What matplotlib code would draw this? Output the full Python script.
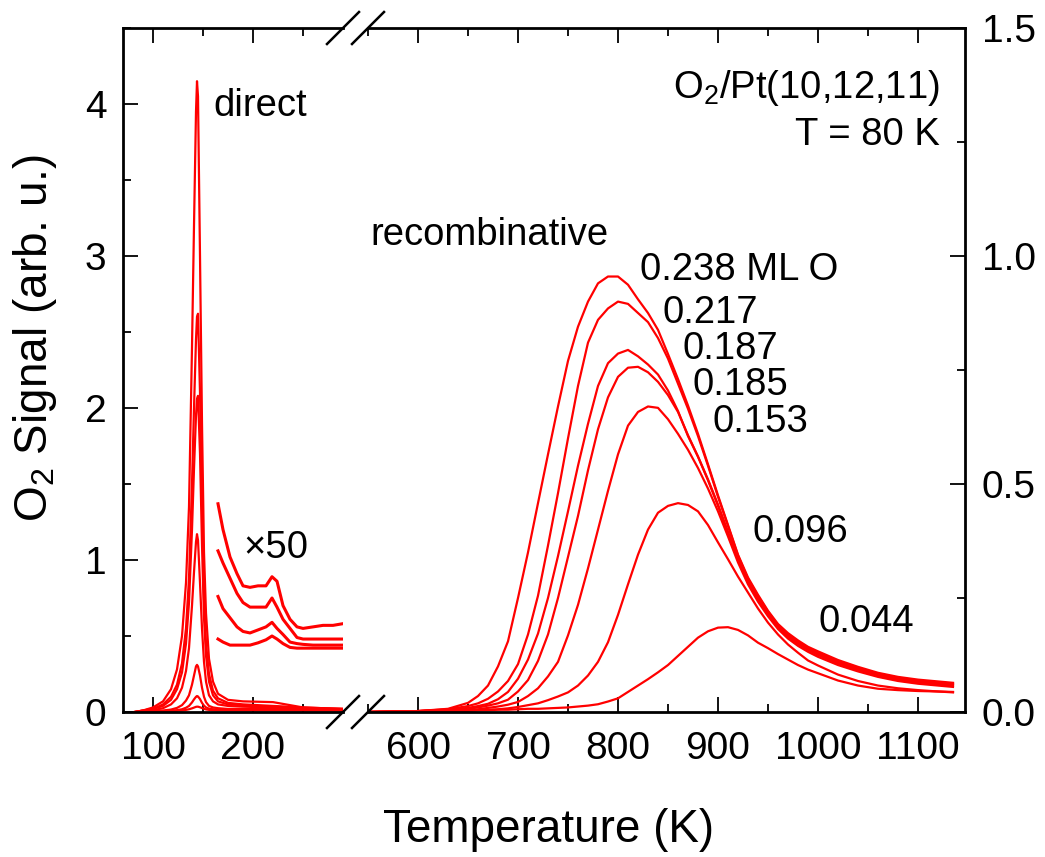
import matplotlib
matplotlib.use('Agg')
import matplotlib.pyplot as plt
from matplotlib.lines import Line2D
from matplotlib.ticker import MultipleLocator

plt.rcParams['font.family'] = ['Liberation Sans', 'DejaVu Sans']
plt.rcParams['mathtext.default'] = 'regular'

# ---- data: direct O2 desorption (left panel, left axis units)
T_dir = [82, 90, 100, 110, 118, 124, 129, 133, 136, 139, 141, 143, 144, 145, 147,
         149, 151, 153, 156, 160, 165, 175, 190, 220, 250, 290]
dir_238 = [0.0, 0.01, 0.03, 0.07, 0.15, 0.28, 0.5, 0.85, 1.35, 2.4, 3.2, 3.95, 4.15, 4.05, 3.0,
           1.9, 1.05, 0.65, 0.35, 0.2, 0.12, 0.08, 0.07, 0.065, 0.03, 0.02]
dir_217 = [0.0, 0.01, 0.02, 0.05, 0.1, 0.18, 0.32, 0.55, 0.88, 1.5, 2.0, 2.45, 2.6, 2.62, 2.1,
           1.35, 0.75, 0.45, 0.25, 0.14, 0.09, 0.06, 0.05, 0.04, 0.03, 0.02]
dir_187 = [0.0, 0.01, 0.02, 0.04, 0.08, 0.15, 0.26, 0.45, 0.72, 1.2, 1.6, 1.95, 2.06, 2.08, 1.7,
           1.1, 0.62, 0.37, 0.2, 0.11, 0.07, 0.05, 0.045, 0.035, 0.025, 0.02]
dir_185 = [0.0, 0.005, 0.012, 0.025, 0.05, 0.09, 0.16, 0.27, 0.42, 0.7, 0.92, 1.12, 1.17, 1.13, 0.85,
           0.55, 0.33, 0.2, 0.11, 0.07, 0.05, 0.04, 0.035, 0.03, 0.02, 0.02]
dir_153 = [0.0, 0.003, 0.006, 0.01, 0.016, 0.027, 0.045, 0.075, 0.11, 0.18, 0.24, 0.3, 0.31, 0.3, 0.24,
           0.16, 0.1, 0.065, 0.04, 0.03, 0.025, 0.02, 0.02, 0.02, 0.015, 0.015]
dir_096 = [0.0, 0.002, 0.003, 0.005, 0.008, 0.012, 0.018, 0.028, 0.04, 0.063, 0.083, 0.1, 0.105, 0.102, 0.085,
           0.06, 0.042, 0.03, 0.022, 0.018, 0.016, 0.015, 0.015, 0.015, 0.012, 0.012]
dir_044 = [0.0, 0.002, 0.003, 0.004, 0.006, 0.008, 0.01, 0.014, 0.018, 0.024, 0.029, 0.034, 0.035, 0.035, 0.031,
           0.026, 0.021, 0.017, 0.014, 0.012, 0.011, 0.01, 0.01, 0.01, 0.01, 0.01]

# x50 magnified traces
T_x50 = [165, 170, 177, 184, 190, 197, 205, 213, 219, 224, 230, 237, 244, 250, 260, 270, 280, 289]
x50_a = [1.37, 1.2, 1.02, 0.91, 0.83, 0.82, 0.83, 0.83, 0.89, 0.86, 0.7, 0.61, 0.56, 0.55, 0.56, 0.57, 0.57, 0.58]
x50_b = [1.06, 0.98, 0.88, 0.78, 0.72, 0.69, 0.69, 0.69, 0.75, 0.69, 0.61, 0.55, 0.49, 0.48, 0.48, 0.48, 0.48, 0.48]
x50_c = [0.76, 0.68, 0.62, 0.56, 0.53, 0.52, 0.54, 0.56, 0.59, 0.55, 0.51, 0.46, 0.45, 0.445, 0.44, 0.44, 0.44, 0.44]
x50_d = [0.48, 0.46, 0.44, 0.44, 0.44, 0.44, 0.455, 0.475, 0.5, 0.48, 0.45, 0.425, 0.42, 0.42, 0.42, 0.42, 0.42, 0.42]

# ---- data: recombinative desorption (right panel, right axis units)
T_rec = [550, 600, 630, 650, 660, 670, 680, 690, 700, 710, 720, 730, 740, 750, 760, 770, 780, 790,
         800, 810, 820, 830, 840, 850, 860, 870, 880, 890, 900, 910, 920, 930, 940, 950, 960, 970,
         980, 990, 1000, 1020, 1040, 1060, 1080, 1100, 1120, 1135]
rec_238 = [0.0, 0.002, 0.007, 0.02, 0.035, 0.058, 0.1, 0.155, 0.25, 0.35, 0.458, 0.565, 0.67, 0.77, 0.845, 0.9, 0.94, 0.955,
           0.955, 0.937, 0.905, 0.875, 0.838, 0.785, 0.73, 0.672, 0.61, 0.543, 0.475, 0.41, 0.345, 0.295, 0.257, 0.222, 0.193, 0.173,
           0.157, 0.143, 0.133, 0.114, 0.099, 0.086, 0.077, 0.071, 0.067, 0.064]
rec_217 = [0.0, 0.002, 0.006, 0.013, 0.019, 0.029, 0.045, 0.068, 0.105, 0.17, 0.255, 0.365, 0.48, 0.6, 0.715, 0.81, 0.86, 0.885,
           0.9, 0.895, 0.875, 0.855, 0.82, 0.775, 0.72, 0.665, 0.605, 0.54, 0.472, 0.408, 0.343, 0.292, 0.254, 0.22, 0.19, 0.17,
           0.154, 0.14, 0.13, 0.111, 0.096, 0.084, 0.075, 0.069, 0.065, 0.062]
rec_187 = [0.0, 0.002, 0.005, 0.009, 0.013, 0.018, 0.028, 0.044, 0.073, 0.115, 0.172, 0.25, 0.342, 0.44, 0.54, 0.632, 0.715, 0.765,
           0.786, 0.794, 0.78, 0.762, 0.74, 0.705, 0.66, 0.605, 0.56, 0.51, 0.455, 0.395, 0.335, 0.288, 0.25, 0.217, 0.188, 0.167,
           0.151, 0.138, 0.127, 0.108, 0.094, 0.082, 0.073, 0.067, 0.063, 0.060]
rec_185 = [0.0, 0.002, 0.004, 0.007, 0.01, 0.014, 0.019, 0.027, 0.045, 0.07, 0.112, 0.17, 0.25, 0.34, 0.43, 0.53, 0.62, 0.69,
           0.735, 0.755, 0.757, 0.745, 0.724, 0.695, 0.658, 0.607, 0.56, 0.508, 0.452, 0.392, 0.333, 0.285, 0.247, 0.214, 0.186, 0.165,
           0.149, 0.136, 0.125, 0.106, 0.092, 0.080, 0.071, 0.065, 0.061, 0.058]
rec_153 = [0.0, 0.001, 0.003, 0.004, 0.006, 0.009, 0.012, 0.016, 0.022, 0.035, 0.052, 0.078, 0.11, 0.168, 0.235, 0.315, 0.4, 0.485,
           0.565, 0.628, 0.658, 0.67, 0.667, 0.642, 0.61, 0.575, 0.535, 0.49, 0.44, 0.385, 0.328, 0.28, 0.242, 0.21, 0.182, 0.161,
           0.145, 0.132, 0.121, 0.103, 0.089, 0.077, 0.068, 0.062, 0.058, 0.055]
rec_096 = [0.0, 0.001, 0.002, 0.003, 0.004, 0.005, 0.006, 0.008, 0.011, 0.015, 0.019, 0.026, 0.034, 0.043, 0.058, 0.08, 0.11, 0.153,
           0.213, 0.28, 0.345, 0.4, 0.437, 0.452, 0.458, 0.454, 0.44, 0.41, 0.372, 0.335, 0.297, 0.262, 0.227, 0.196, 0.17, 0.148,
           0.13, 0.113, 0.102, 0.082, 0.068, 0.058, 0.052, 0.048, 0.045, 0.043]
rec_044 = [0.0, 0.002, 0.003, 0.003, 0.004, 0.004, 0.005, 0.005, 0.006, 0.007, 0.007, 0.008, 0.009, 0.01, 0.012, 0.014, 0.017, 0.023,
           0.03, 0.044, 0.058, 0.072, 0.087, 0.103, 0.123, 0.143, 0.163, 0.177, 0.185, 0.186, 0.18, 0.168, 0.152, 0.14, 0.127, 0.115,
           0.103, 0.093, 0.085, 0.069, 0.058, 0.051, 0.048, 0.046, 0.045, 0.044]

coverages = ['0.238 ML O', '0.217', '0.187', '0.185', '0.153', '0.096', '0.044']
label_T = [822, 845, 864, 875, 894, 934, 1000]
label_v = [0.969, 0.875, 0.796, 0.717, 0.636, 0.395, 0.197]

W, H = 1045, 857
fig = plt.figure(figsize=(W / 100, H / 100), dpi=100)

# axes boxes in pixels: left panel 123-343, right panel 368-965, y 28-712
y0 = (H - 712) / H
hgt = (712 - 28) / H
ax_l = fig.add_axes([123 / W, y0, (343 - 123) / W, hgt])
ax_r = fig.add_axes([368 / W, y0, (965 - 368) / W, hgt])

red = '#ff0000'
lw = 1.6
for yy in [dir_238, dir_217, dir_187, dir_185, dir_153, dir_096, dir_044]:
    ax_l.plot(T_dir, yy, color=red, lw=lw)
for yy in [x50_a, x50_b, x50_c, x50_d]:
    ax_l.plot(T_x50, yy, color=red, lw=2.2)
for yy in [rec_238, rec_217, rec_187, rec_185, rec_153, rec_096, rec_044]:
    ax_r.plot(T_rec, yy, color=red, lw=lw)

ax_l.set_xlim(70, 290)
ax_l.set_ylim(0, 4.5)
ax_r.set_xlim(550, 1147)
ax_r.set_ylim(0, 1.5)

fs_tick = 28
fs_text = 27.5
for ax in (ax_l, ax_r):
    for s in ax.spines.values():
        s.set_linewidth(2)
    ax.tick_params(which='both', direction='in', width=1.3, labelsize=fs_tick,
                   top=True, bottom=True)
    ax.tick_params(which='major', length=10.5)
    ax.tick_params(which='minor', length=5.5)
    ax.tick_params(axis='x', pad=14)

ax_l.spines['right'].set_visible(False)
ax_l.xaxis.set_major_locator(MultipleLocator(100))
ax_l.xaxis.set_minor_locator(MultipleLocator(50))
ax_l.yaxis.set_major_locator(MultipleLocator(1))
ax_l.yaxis.set_minor_locator(MultipleLocator(0.5))
ax_l.tick_params(axis='y', which='both', left=True, right=False, pad=12)

ax_r.spines['left'].set_visible(False)
ax_r.set_xticks([600, 700, 800, 900, 1000, 1100])
ax_r.set_xticks([550, 650, 750, 850, 950, 1050], minor=True)
ax_r.set_yticks([0.0, 0.5, 1.0, 1.5])
ax_r.set_yticklabels(['0.0', '0.5', '1.0', '1.5'])
ax_r.yaxis.set_minor_locator(MultipleLocator(0.25))
ax_r.tick_params(axis='y', which='both', left=False, right=True,
                 labelleft=False, labelright=True, pad=12)

# break marks
for xc in (343, 368):
    for yc in (28, 712):
        fig.add_artist(Line2D([(xc - 16) / W, (xc + 16) / W],
                              [1 - (yc + 16) / H, 1 - (yc - 16) / H],
                              transform=fig.transFigure, color='black', lw=1.8))

# annotations
ax_l.text(160, 3.99, 'direct', fontsize=fs_text, va='center', ha='left')
ax_l.text(190, 1.08, '×50', fontsize=fs_text, va='center', ha='left')
ax_r.text(552, 1.046, 'recombinative', fontsize=fs_text, va='center', ha='left')
ax_r.text(1122, 1.368, 'O$_2$/Pt(10,12,11)', fontsize=fs_text, va='center', ha='right')
ax_r.text(1122, 1.265, 'T = 80 K', fontsize=fs_text, va='center', ha='right')
for lab, tx, ty in zip(coverages, label_T, label_v):
    ax_r.text(tx, ty, lab, fontsize=fs_text, va='center', ha='left')

fig.text(549 / W, 1 - 830 / H, 'Temperature (K)', fontsize=33, ha='center', va='center')
fig.text(35 / W, 1 - 338 / H, 'O$_2$ Signal (arb. u.)', fontsize=33,
         ha='center', va='center', rotation=90)

fig.savefig('out.png', dpi=100)
